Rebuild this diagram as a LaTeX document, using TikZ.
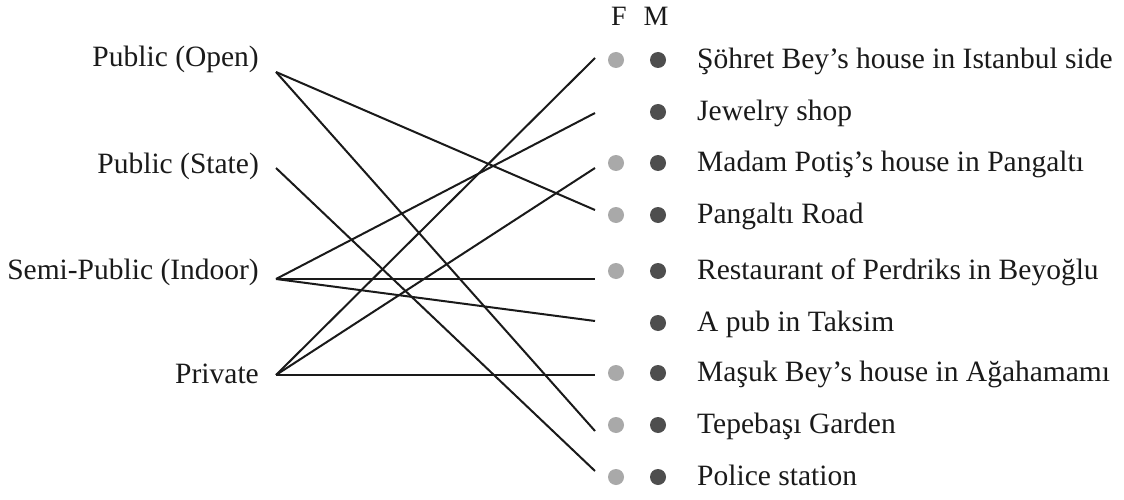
\documentclass[tikz,border=0pt]{standalone}
\usepackage{fontspec}
\setmainfont{Liberation Serif}
\definecolor{fgray}{HTML}{A9A9A9}
\definecolor{mgray}{HTML}{4E4E4E}
\definecolor{ink}{HTML}{1A1A1A}
\begin{document}
\begin{tikzpicture}[x=1pt,y=-1pt,
  lbl/.style={inner sep=0pt, text=ink, font=\fontsize{29.5}{34}\selectfont},
  hdr/.style={inner sep=0pt, text=ink, font=\fontsize{28}{32}\selectfont, anchor=base},
  fdot/.style={circle, fill=fgray, inner sep=0pt, minimum size=16pt},
  mdot/.style={circle, fill=mgray, inner sep=0pt, minimum size=16pt},
  link/.style={line width=2pt, draw=ink}]
\fill[white] (0,0) rectangle (1124,500);
\useasboundingbox (0,0) rectangle (1124,500);

% column headers
\node[hdr] (hf) at (619,26) {F};
\node[hdr] (hm) at (656,26) {M};

% space categories
\node[lbl, anchor=base east] (open)  at (259,67)  {Public (Open)};
\node[lbl, anchor=base east] (state) at (259,173) {Public (State)};
\node[lbl, anchor=base east] (semi)  at (259,279) {Semi-Public (Indoor)};
\node[lbl, anchor=base east] (priv)  at (259,383) {Private};
\coordinate (open-e)  at (276,72);
\coordinate (state-e) at (276,168);
\coordinate (semi-e)  at (276,279);
\coordinate (priv-e)  at (276,375);

% places: name / row y / end of connector / F dot shown
\foreach \n/\y/\ey/\f/\t in {
  1/60/58/1/{Şöhret Bey’s house in Istanbul side},
  2/112/113/0/{Jewelry shop},
  3/163/168/1/{Madam Potiş’s house in Pangaltı},
  4/215/210/1/{Pangaltı Road},
  5/271/279/1/{Restaurant of Perdriks in Beyoğlu},
  6/323/321/0/{A pub in Taksim},
  7/373/375/1/{Maşuk Bey’s house in Ağahamamı},
  8/425/431/1/{Tepebaşı Garden},
  9/477/471/1/{Police station}}{
  \node[mdot] (m\n) at (658,\y) {};
  \ifnum\f=1 \node[fdot] (f\n) at (616,\y) {};\fi
  \node[lbl, anchor=base west] (p\n) at (697,\y+8.5) {\t};
  \coordinate (e\n) at (595,\ey);
}

% links between categories and places
\draw[link] (open-e)  -- (e4);
\draw[link] (open-e)  -- (e8);
\draw[link] (state-e) -- (e9);
\draw[link] (semi-e)  -- (e2);
\draw[link] (semi-e)  -- (e5);
\draw[link] (semi-e)  -- (e6);
\draw[link] (priv-e)  -- (e1);
\draw[link] (priv-e)  -- (e3);
\draw[link] (priv-e)  -- (e7);
\end{tikzpicture}
\end{document}
